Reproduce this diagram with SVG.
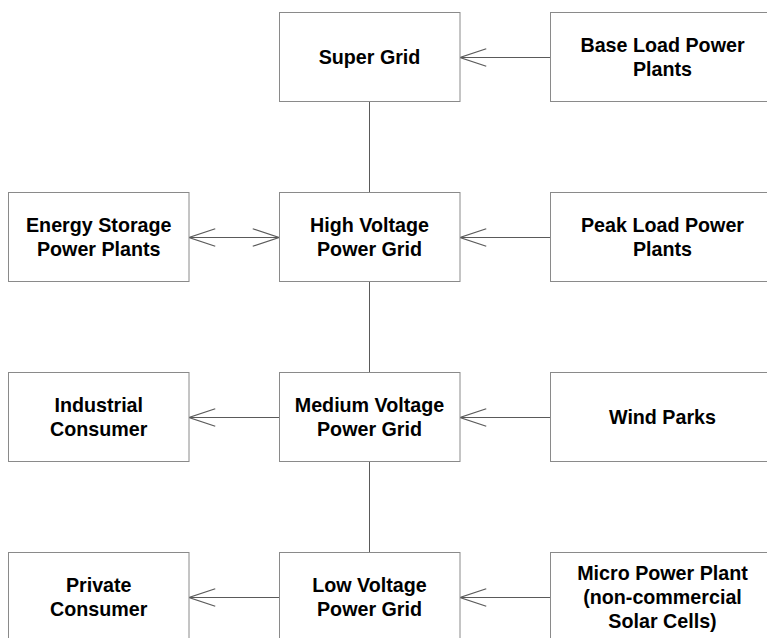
<svg xmlns="http://www.w3.org/2000/svg" width="767" height="638" viewBox="0 0 767 638">
<style>
.box{fill:#fff;stroke:#8a8a8a;stroke-width:1}
.lbl{font-family:"Liberation Sans",Arial,sans-serif;font-weight:bold;font-size:19.7px;fill:#000;text-anchor:middle}
.con{stroke:#5a5a5a;stroke-width:1;fill:none}
</style>
<defs>
<marker id="arr" markerUnits="userSpaceOnUse" markerWidth="30" markerHeight="20" viewBox="-22 -8 24 16" refX="0" refY="0" orient="auto-start-reverse" overflow="visible">
<path d="M-21,-7 L0,0 L-21,7" fill="none" stroke="#5a5a5a" stroke-width="1"/>
</marker>
</defs>
<rect width="767" height="638" fill="#fff"/>
<g id="connectors">
<line class="con" x1="550" y1="57.5" x2="460" y2="57.5" marker-end="url(#arr)"/>
<line class="con" x1="369.5" y1="101.5" x2="369.5" y2="192.5"/>
<line class="con" x1="189" y1="237.5" x2="279" y2="237.5" marker-start="url(#arr)" marker-end="url(#arr)"/>
<line class="con" x1="550" y1="237.5" x2="460" y2="237.5" marker-end="url(#arr)"/>
<line class="con" x1="369.5" y1="281.5" x2="369.5" y2="372.5"/>
<line class="con" x1="279" y1="417.5" x2="189" y2="417.5" marker-end="url(#arr)"/>
<line class="con" x1="550" y1="417.5" x2="460" y2="417.5" marker-end="url(#arr)"/>
<line class="con" x1="369.5" y1="461.5" x2="369.5" y2="552.5"/>
<line class="con" x1="279" y1="597.5" x2="189" y2="597.5" marker-end="url(#arr)"/>
<line class="con" x1="550" y1="597.5" x2="460" y2="597.5" marker-end="url(#arr)"/>
</g>
<g id="super-grid"><rect class="box" x="279.5" y="12.5" width="180.5" height="89"/><text class="lbl" x="369.5" y="63.5">Super Grid</text></g>
<g id="base-load"><rect class="box" x="550.5" y="12.5" width="224" height="89"/><text class="lbl" x="662.5" y="52">Base Load Power</text><text class="lbl" x="662.5" y="76">Plants</text></g>
<g id="energy-storage"><rect class="box" x="8.5" y="192.5" width="180.5" height="89"/><text class="lbl" x="98.75" y="232">Energy Storage</text><text class="lbl" x="98.75" y="256">Power Plants</text></g>
<g id="high-voltage"><rect class="box" x="279.5" y="192.5" width="180.5" height="89"/><text class="lbl" x="369.5" y="232">High Voltage</text><text class="lbl" x="369.5" y="256">Power Grid</text></g>
<g id="peak-load"><rect class="box" x="550.5" y="192.5" width="224" height="89"/><text class="lbl" x="662.5" y="232">Peak Load Power</text><text class="lbl" x="662.5" y="256">Plants</text></g>
<g id="industrial"><rect class="box" x="8.5" y="372.5" width="180.5" height="89"/><text class="lbl" x="98.75" y="412">Industrial</text><text class="lbl" x="98.75" y="436">Consumer</text></g>
<g id="medium-voltage"><rect class="box" x="279.5" y="372.5" width="180.5" height="89"/><text class="lbl" x="369.5" y="412">Medium Voltage</text><text class="lbl" x="369.5" y="436">Power Grid</text></g>
<g id="wind-parks"><rect class="box" x="550.5" y="372.5" width="224" height="89"/><text class="lbl" x="662.5" y="424">Wind Parks</text></g>
<g id="private"><rect class="box" x="8.5" y="552.5" width="180.5" height="89"/><text class="lbl" x="98.75" y="592">Private</text><text class="lbl" x="98.75" y="616">Consumer</text></g>
<g id="low-voltage"><rect class="box" x="279.5" y="552.5" width="180.5" height="89"/><text class="lbl" x="369.5" y="592">Low Voltage</text><text class="lbl" x="369.5" y="616">Power Grid</text></g>
<g id="micro"><rect class="box" x="550.5" y="552.5" width="224" height="89"/><text class="lbl" x="662.5" y="580">Micro Power Plant</text><text class="lbl" x="662.5" y="604">(non-commercial</text><text class="lbl" x="662.5" y="628">Solar Cells)</text></g>
</svg>
